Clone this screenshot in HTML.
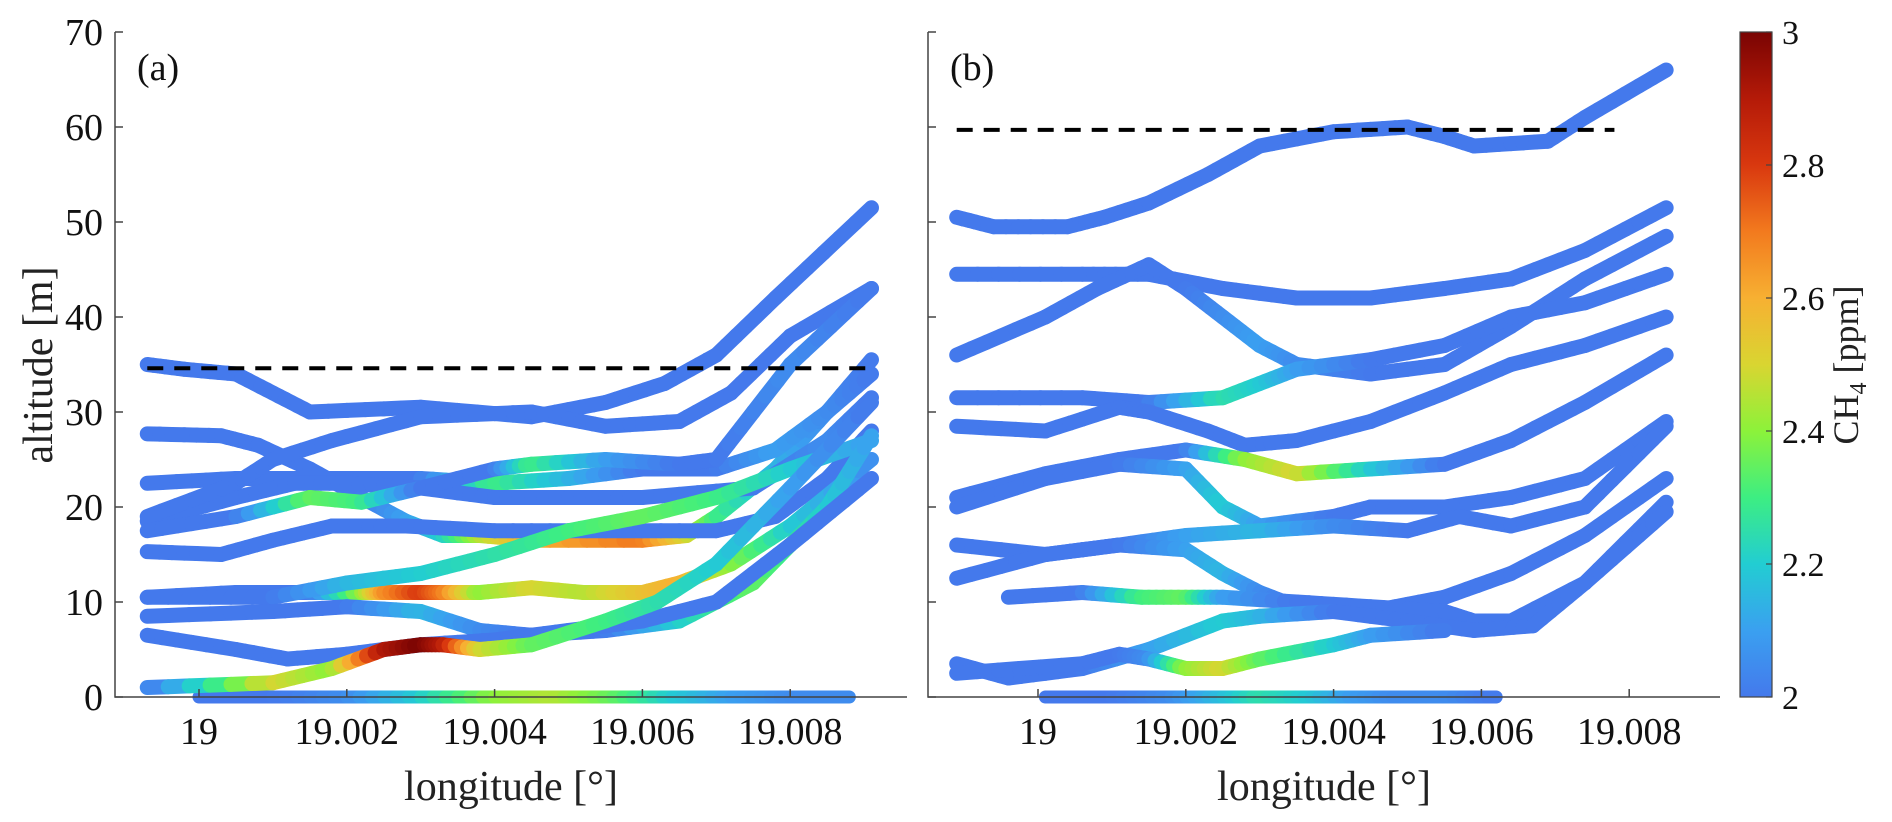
<!DOCTYPE html>
<html><head><meta charset="utf-8"><style>
html,body{margin:0;padding:0;background:#fff;}
svg{display:block;font-family:"Liberation Serif",serif;}
</style></head><body>
<svg id="chart" width="1892" height="822" viewBox="0 0 1892 822" xmlns="http://www.w3.org/2000/svg"></svg>
<script>
const NS="http://www.w3.org/2000/svg";
const xTicks=[19,19.002,19.004,19.006,19.008];
const xTickLabels=["19","19.002","19.004","19.006","19.008"];
const yTicks=[0,10,20,30,40,50,60,70];
const cbTicks=[2,2.2,2.4,2.6,2.8,3];
const cbTickLabels=["2","2.2","2.4","2.6","2.8","3"];
const dashA=[18.9993,19.0091,34.6];
const dashB=[18.9989,19.0078,59.7];

const tracksA=[
{lon:[18.9993,18.9998,19.0005,19.001,19.0015,19.003,19.0045,19.0055,19.0063,19.007,19.0078,19.0091],alt:[35,34.5,34,32,30,30.5,29.5,31,33,36,42,51.5],ch4:[2,2,2,2,2,2,2,2,2,2,2,2]},
{lon:[18.9993,19.0003,19.0008,19.0015,19.0022,19.0028,19.0033,19.0038,19.0045,19.006,19.0066,19.007,19.0078,19.0085,19.0091],alt:[27.7,27.5,26.5,24,21,18.5,17,17,16.5,16.5,17,19,24,30,35.5],ch4:[2,2,2,2,2,2.1,2.2,2.45,2.6,2.7,2.5,2.3,2.15,2.05,2]},
{lon:[18.9993,19.0005,19.003,19.004,19.005,19.006,19.007,19.0078,19.0085,19.0091],alt:[22.5,23,23,22.5,23,24,24,26,30,34],ch4:[2,2,2,2.3,2.15,2,2,2.1,2.05,2]},
{lon:[18.9993,19.0005,19.0013,19.002,19.003,19.004,19.005,19.006,19.0075,19.0085,19.0091],alt:[18.5,21,22.5,22.5,22,21,21,21,22,27,31.5],ch4:[2,2,2,2,2,2,2,2,2,2.05,2]},
{lon:[18.9993,19.0005,19.001,19.0018,19.003,19.0045,19.0055,19.0065,19.0072,19.008,19.0091],alt:[19,22.5,25,27,29.5,30,28.5,29,32,38,43],ch4:[2,2,2,2,2,2,2,2,2,2,2]},
{lon:[18.9993,19.0005,19.0015,19.0022,19.003,19.004,19.0045,19.0055,19.0065,19.007,19.008,19.0091],alt:[17.5,19,21,20.5,22,24,24.5,25,24.5,25,35,43],ch4:[2,2,2.35,2.3,2,2,2.3,2.1,2,2,2.05,2]},
{lon:[18.9993,19.0003,19.001,19.0018,19.0028,19.004,19.0055,19.007,19.0078,19.0085,19.0091],alt:[15.3,15,16.5,18,18,17.5,17.5,17.5,19,23,28],ch4:[2,2,2,2,2,2,2,2,2,2,2]},
{lon:[18.9993,19.0005,19.0015,19.0022,19.0025,19.003,19.0033,19.0038,19.0045,19.0052,19.006,19.0065,19.0072,19.008,19.0091],alt:[10.5,11,11,11,11,11,11,11,11.5,11,11,12,14,18,25],ch4:[2,2,2,2.4,2.65,2.8,2.7,2.4,2.5,2.45,2.55,2.6,2.4,2.2,2.05]},
{lon:[18.9993,19.001,19.002,19.003,19.004,19.005,19.006,19.007,19.008,19.0091],alt:[10.5,10.5,12,13,15,17.5,19,21,24,27],ch4:[2,2,2.15,2.2,2.25,2.3,2.35,2.3,2.2,2.1]},
{lon:[18.9993,19.001,19.002,19.003,19.0038,19.0045,19.0055,19.0065,19.0075,19.0085,19.0091],alt:[8.5,9,9.5,9,7,6.5,7,8,12,20,27.5],ch4:[2,2,2,2.15,2.05,2,2,2.2,2.35,2.2,2.1]},
{lon:[18.9993,19.0005,19.0012,19.002,19.003,19.004,19.005,19.006,19.007,19.008,19.0091],alt:[6.5,5,4,4.5,5.5,6,7,8,10,16,23],ch4:[2,2,2,2,2,2,2,2,2,2,2]},
{lon:[18.9993,19.001,19.0018,19.0025,19.003,19.0033,19.0038,19.0045,19.0055,19.0062,19.007,19.008,19.0091],alt:[1,1.5,3,5,5.5,5.5,5,5.5,8,10,14,22,31],ch4:[2,2.5,2.4,2.9,3.0,2.9,2.5,2.35,2.3,2.25,2.2,2.1,2.0]}
];
const groundA={lon:[19.0,19.001,19.002,19.003,19.004,19.0048,19.0056,19.0064,19.0072,19.008,19.0088],ch4:[2,2,2.05,2.2,2.4,2.45,2.35,2.2,2.1,2.05,2.05]};

const tracksB=[
{lon:[18.9989,18.9994,19.0004,19.0009,19.0015,19.0023,19.0030,19.0040,19.0050,19.0055,19.0059,19.0069,19.0074,19.0085],alt:[50.5,49.5,49.5,50.5,52,55,58,59.5,60,59,58,58.5,61,66],ch4:[2,2,2,2,2,2,2,2,2,2,2,2,2,2]},
{lon:[18.9989,19.0006,19.0015,19.0025,19.0035,19.0045,19.0055,19.0064,19.0074,19.0085],alt:[44.5,44.5,44.5,43,42,42,43,44,47,51.5],ch4:[2,2,2,2,2,2,2,2,2,2]},
{lon:[18.9989,19.0001,19.0008,19.0015,19.0020,19.0025,19.0030,19.0035,19.0045,19.0055,19.0064,19.0074,19.0085],alt:[36,40,43,45.5,43,40,37,35,34,35,39,44,48.5],ch4:[2,2,2,2,2,2.05,2.1,2.05,2,2,2,2,2]},
{lon:[18.9989,19.0006,19.0015,19.0025,19.0030,19.0035,19.0045,19.0055,19.0064,19.0074,19.0085],alt:[31.5,31.5,31,31.5,33,34.5,35.5,37,40,41.5,44.5],ch4:[2,2,2,2.25,2.2,2.1,2,2,2,2,2]},
{lon:[18.9989,19.0001,19.0011,19.0015,19.0023,19.0028,19.0035,19.0045,19.0055,19.0064,19.0074,19.0085],alt:[28.5,28,30.5,30,28,26.5,27,29,32,35,37,40],ch4:[2,2,2,2,2,2,2,2,2,2,2,2]},
{lon:[18.9989,19.0001,19.0011,19.0020,19.0028,19.0035,19.0045,19.0055,19.0064,19.0074,19.0085],alt:[21,23.5,25,26,25,23.5,24,24.5,27,31,36],ch4:[2,2,2,2,2.4,2.5,2.2,2,2,2,2]},
{lon:[18.9989,19.0001,19.0011,19.0020,19.0025,19.0030,19.0040,19.0045,19.0055,19.0064,19.0074,19.0085],alt:[20,23,24.5,24,20,18,19,20,20,21,23,29],ch4:[2,2,2,2.1,2.2,2.1,2,2,2,2,2,2]},
{lon:[18.9989,19.0001,19.0011,19.0020,19.0030,19.0040,19.0050,19.0057,19.0064,19.0074,19.0085],alt:[16,15,16,17,17.5,18,17.5,19,18,20,28.5],ch4:[2,2,2,2.1,2.15,2.05,2,2,2,2,2]},
{lon:[18.9989,19.0001,19.0011,19.0020,19.0025,19.0030,19.0035,19.0045,19.0055,19.0064,19.0074,19.0085],alt:[12.5,15,16,15.5,13,11,9.5,9,10.5,13,17,23],ch4:[2,2,2,2.1,2.15,2.05,2,2,2,2,2,2]},
{lon:[18.9996,19.0006,19.0014,19.0020,19.0025,19.0035,19.0045,19.0055,19.0059,19.0064,19.0074,19.0085],alt:[10.5,11,10.5,10.5,10.5,10,9.5,9,8,8,12,20.5],ch4:[2,2,2.3,2.35,2.1,2,2,2,2,2,2,2]},
{lon:[18.9989,18.9996,19.0006,19.0015,19.0025,19.0030,19.0040,19.0050,19.0059,19.0067,19.0074,19.0085],alt:[3.5,2,3,5,8,8.5,9,8,7,7.5,12,19.5],ch4:[2,2,2,2.1,2.2,2.15,2,2,2,2,2,2]},
{lon:[18.9989,19.0006,19.0011,19.0015,19.0020,19.0025,19.0030,19.0040,19.0045,19.0055],alt:[2.5,3.5,4.5,4,3,3,4,5.5,6.5,7],ch4:[2,2,2,2.05,2.4,2.5,2.35,2.2,2.1,2]}
];
const groundB={lon:[19.0001,19.0010,19.0018,19.0024,19.0030,19.0036,19.0042,19.0048,19.0055,19.0062],ch4:[2,2,2.05,2.15,2.25,2.2,2.1,2.05,2.05,2]};

const cmStops=[[2.0,[68,121,236]],[2.1,[58,160,240]],[2.2,[34,205,210]],[2.3,[61,238,130]],[2.4,[140,242,58]],[2.5,[217,213,49]],[2.6,[247,176,50]],[2.7,[242,122,30]],[2.8,[217,56,15]],[2.9,[180,26,8]],[3.0,[122,4,3]]];
function cmap(v){
  v=Math.max(2,Math.min(3,v));
  for(let i=0;i<cmStops.length-1;i++){
    const a=cmStops[i],b=cmStops[i+1];
    if(v<=b[0]){const t=(v-a[0])/(b[0]-a[0]);
      const c=a[1].map((x,k)=>Math.round(x+(b[1][k]-x)*t));
      return `rgb(${c[0]},${c[1]},${c[2]})`;}
  }
  return "rgb(122,4,3)";
}
const svg=document.getElementById('chart');
function el(tag,attrs,parent){const e=document.createElementNS(NS,tag);for(const k in attrs)e.setAttribute(k,attrs[k]);(parent||svg).appendChild(e);return e;}

const Y0=697, YS=9.5, XS=73900;
function yPos(a){return Y0-a*YS;}
function makeX(x19){return lon=>x19+(lon-19)*XS;}

function drawPanel(name,axisX,axisR,x19,tracks,ground,dash,label,showYLabels){
  const xPos=makeX(x19);
  const g=el('g',{});
  
  
  const gg=el('g',{},g);
  
  
  for(let i=0;i<ground.lon.length-1;i++){
    const n=6;
    for(let s=0;s<n;s++){
      const t0=s/n,t1=(s+1)/n;
      const l0=ground.lon[i]+(ground.lon[i+1]-ground.lon[i])*t0;
      const l1=ground.lon[i]+(ground.lon[i+1]-ground.lon[i])*t1;
      const c=ground.ch4[i]+(ground.ch4[i+1]-ground.ch4[i])*(t0+t1)/2;
      el('line',{x1:xPos(l0),y1:yPos(0),x2:xPos(l1),y2:yPos(0),stroke:cmap(c),'stroke-width':13,'stroke-linecap':'round'},gg);
    }
  }
  tracks.forEach((tr,ti)=>{
    const tg=el('g',{},g);
    
    
    for(let i=0;i<tr.lon.length-1;i++){
      const n=6;
      for(let s=0;s<n;s++){
        const t0=s/n,t1=(s+1)/n;
        const x0=xPos(tr.lon[i]+(tr.lon[i+1]-tr.lon[i])*t0);
        const x1=xPos(tr.lon[i]+(tr.lon[i+1]-tr.lon[i])*t1);
        const y0=yPos(tr.alt[i]+(tr.alt[i+1]-tr.alt[i])*t0);
        const y1=yPos(tr.alt[i]+(tr.alt[i+1]-tr.alt[i])*t1);
        const c=tr.ch4[i]+(tr.ch4[i+1]-tr.ch4[i])*(t0+t1)/2;
        el('line',{x1:x0,y1:y0,x2:x1,y2:y1,stroke:cmap(c),'stroke-width':15,'stroke-linecap':'round'},tg);
      }
    }
  });
  const d=el('line',{x1:xPos(dash[0]),y1:yPos(dash[2]),x2:xPos(dash[1]),y2:yPos(dash[2]),stroke:'#000','stroke-width':4,'stroke-dasharray':'16 11'},g);
  
  
  const ax=el('path',{d:`M${axisX},32 L${axisX},${Y0} L${axisR},${Y0}`,fill:'none',stroke:'#444','stroke-width':1.5},g);
  
  
  yTicks.forEach(v=>{
    el('line',{x1:axisX,y1:yPos(v),x2:axisX+8,y2:yPos(v),stroke:'#444','stroke-width':1.5},g);
    if(showYLabels){
      const t=el('text',{x:axisX-12,y:yPos(v)+13,'text-anchor':'end','font-size':38,fill:'#111'},g);
      t.textContent=String(v);
      
      
    }
  });
  xTicks.forEach((v,i)=>{
    el('line',{x1:xPos(v),y1:Y0,x2:xPos(v),y2:Y0-8,stroke:'#444','stroke-width':1.5},g);
    const t=el('text',{x:xPos(v),y:744,'text-anchor':'middle','font-size':38,fill:'#111'},g);
    t.textContent=xTickLabels[i];
    
    
  });
  const xl=el('text',{x:(axisX+axisR)/2,y:800,'text-anchor':'middle','font-size':42,fill:'#222'},g);
  xl.textContent='longitude [°]';
  
  
  const pl=el('text',{x:axisX+22,y:80,'font-size':38,fill:'#111'},g);
  pl.textContent=label;
  
  
}
drawPanel('panel-a',115,907,199,tracksA,groundA,dashA,'(a)',true);
drawPanel('panel-b',928,1720,1038,tracksB,groundB,dashB,'(b)',false);

const yl=el('text',{x:0,y:0,'text-anchor':'middle','font-size':42,fill:'#222',transform:'translate(52,365) rotate(-90)'});
yl.textContent='altitude [m]';



const defs=el('defs',{});
const lg=el('linearGradient',{id:'cbg',x1:0,y1:1,x2:0,y2:0},defs);
cmStops.forEach(s=>el('stop',{offset:((s[0]-2)*100)+'%','stop-color':cmap(s[0])},lg));
const cbX=1740,cbW=32,cbTop=32,cbBot=697;
function cbY(v){return cbBot-(v-2)*(cbBot-cbTop);}
const cb=el('rect',{x:cbX,y:cbTop,width:cbW,height:cbBot-cbTop,fill:'url(#cbg)',stroke:'#444','stroke-width':1.2});


cbTicks.forEach((v,i)=>{
  el('line',{x1:cbX+cbW-6,y1:cbY(v),x2:cbX+cbW,y2:cbY(v),stroke:'#444','stroke-width':1.2});
  const t=el('text',{x:cbX+cbW+10,y:cbY(v)+12,'font-size':34,fill:'#111'});
  t.textContent=cbTickLabels[i];
  
  
});
const ct=el('text',{x:0,y:0,'text-anchor':'middle','font-size':36,fill:'#222',transform:'translate(1858,365) rotate(-90)'});
ct.innerHTML='CH<tspan font-size="24" dy="8">4</tspan><tspan dy="-8"> [ppm]</tspan>';


</script>
</body></html>
